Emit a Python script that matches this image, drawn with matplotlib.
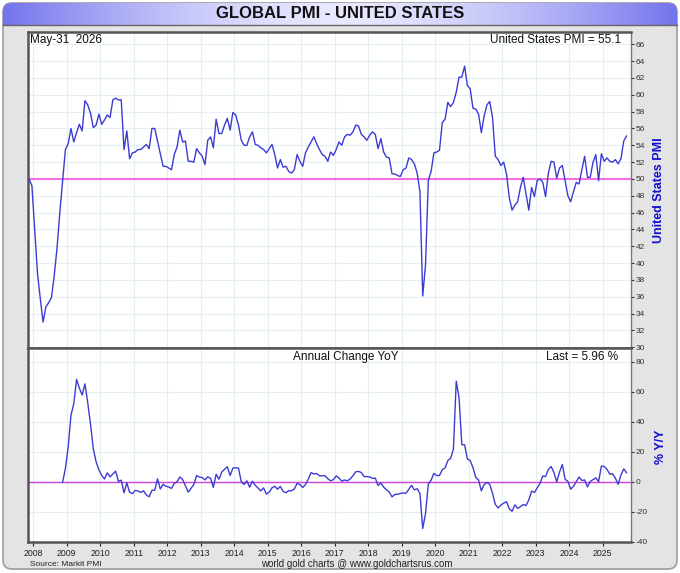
import numpy as np
import pandas as pd
import matplotlib
matplotlib.use('Agg')
import matplotlib.pyplot as plt
from matplotlib.patches import FancyBboxPatch
from matplotlib import font_manager as fm

# ---------------- data ----------------
start_month = '2007-11'
pmi = [
    50.0, 49.2, 44.0, 38.8, 35.8, 33.0, 34.8, 35.3, 35.9, 38.5, 41.8, 46.0,
    49.8, 53.5, 54.2, 56.0, 54.4, 55.5, 56.5, 55.7, 59.3, 58.8, 57.8, 56.1,
    56.4, 57.7, 56.5, 57.0, 57.6, 57.3, 59.4, 59.6, 59.4, 59.4, 53.5, 55.7,
    52.4, 53.1, 53.2, 53.5, 53.5, 53.8, 54.1, 53.6, 56.0, 56.0, 54.5, 53.0,
    51.5, 51.5, 51.3, 51.1, 52.9, 53.8, 55.8, 54.4, 54.5, 52.1, 52.1, 52.0,
    53.6, 53.1, 52.7, 51.7, 54.6, 55.0, 53.7, 57.1, 55.4, 55.4, 56.4, 57.2,
    55.8, 57.9, 57.6, 56.4, 54.6, 54.0, 54.0, 55.0, 55.6, 54.1, 54.0, 53.7,
    53.5, 53.1, 53.6, 54.1, 52.9, 51.3, 52.3, 51.4, 51.5, 50.9, 50.7, 51.1,
    52.9, 52.1, 51.5, 53.1, 53.8, 54.4, 55.0, 54.2, 53.5, 52.9, 52.7, 52.1,
    53.2, 52.8, 53.5, 54.4, 54.0, 55.0, 55.3, 55.2, 55.6, 56.4, 56.3, 55.3,
    55.0, 54.6, 55.2, 55.6, 55.3, 53.6, 54.8, 53.2, 52.6, 52.5, 50.6, 50.6,
    50.4, 50.3, 51.1, 51.3, 52.5, 52.3, 51.8, 50.7, 48.5, 36.1, 39.8, 49.8,
    50.9, 53.1, 53.2, 53.4, 56.7, 57.1, 59.1, 58.6, 59.1, 60.3, 62.1, 62.1,
    63.4, 61.1, 60.7, 58.4, 58.3, 57.7, 55.5, 57.5, 58.8, 59.2, 57.3, 52.7,
    52.3, 51.6, 52.0, 50.6, 47.8, 46.3, 46.9, 47.3, 49.0, 50.2, 48.2, 46.3,
    49.0, 47.9, 49.8, 50.0, 49.6, 47.9, 50.7, 52.1, 52.0, 50.1, 51.3, 51.6,
    49.8, 48.0, 47.3, 48.5, 49.6, 49.4, 51.1, 52.7, 50.2, 50.2, 52.0, 52.9,
    49.8, 53.0, 52.1, 52.5, 52.1, 52.0, 52.3, 51.8, 52.4, 54.5, 55.1,
]
year_ticks = list(range(2008, 2026))
pmi_ticks = list(range(30, 67, 2))
yoy_ticks = list(range(-40, 81, 20))
title = 'GLOBAL PMI - UNITED STATES'
date_label = 'May-31  2026'
series_name = 'United States PMI'
yoy_title = 'Annual Change YoY'

months = pd.period_range(start_month, periods=len(pmi), freq='M')
x = np.asarray(months.year + (months.month - 0.5) / 12.0, dtype=float)
pmi_arr = np.array(pmi)
yoy = (pmi_arr[12:] / pmi_arr[:-12] - 1.0) * 100.0
x_yoy = x[12:]

# ---------------- fonts ----------------
avail = {f.name for f in fm.fontManager.ttflist}
NARROW = 'Liberation Sans Narrow' if 'Liberation Sans Narrow' in avail else 'Liberation Sans'
SANS = 'Liberation Sans' if 'Liberation Sans' in avail else 'DejaVu Sans'

LINE = '#3c3cd2'
GRID = '#e4eff5'
SPINE = '#555555'

fig = plt.figure(figsize=(6.8, 5.73), dpi=100)
fig.patch.set_facecolor('white')

# background frame and title bar (pixel coordinates)
bg = fig.add_axes([0, 0, 1, 1])
bg.set_xlim(0, 680)
bg.set_ylim(573, 0)
bg.axis('off')
bg.set_zorder(-5)
frame = FancyBboxPatch((3, 3), 674, 566, boxstyle='round,pad=0,rounding_size=9',
                       fc='#e4e4e4', ec='#9c9c9c', lw=1.2)
bg.add_patch(frame)
clip = FancyBboxPatch((3, 3), 674, 40, boxstyle='round,pad=0,rounding_size=9',
                      fc='none', ec='none')
bg.add_patch(clip)
t = np.abs(np.linspace(-1, 1, 400)) ** 1.6
edge = np.array([0.45, 0.45, 0.93])
center = np.array([0.91, 0.91, 1.0])
grad = center[None, :] * (1 - t[:, None]) + edge[None, :] * t[:, None]
img = np.repeat(grad[None, :, :], 2, axis=0)
im = bg.imshow(img, extent=(3, 677, 25, 3), aspect='auto', zorder=2, interpolation='bilinear')
im.set_clip_path(clip)
bg.plot([3, 677], [25, 25], color='#666666', lw=1.0, zorder=3)
bg.text(340, 14, title, ha='center', va='center', fontsize=12, fontweight='bold',
        family=NARROW, color='#111111', zorder=4)

# right-hand axis titles, panel caption and footer
bg.text(659, 190, series_name, rotation=90, ha='center', va='center', fontsize=9,
        fontweight='bold', family=SANS, color='#1010cc')
bg.text(661, 447, '% Y/Y', rotation=90, ha='center', va='center', fontsize=9,
        fontweight='bold', family=SANS, color='#1010cc')
bg.text(30, 564, 'Source: Markit PMI', ha='left', va='center', fontsize=6,
        family=SANS, color='#222222')
bg.text(357, 564, 'world gold charts @ www.goldchartsrus.com', ha='center', va='center',
        fontsize=7, family=SANS, color='#222222')

L, R = 28 / 680, 630.5 / 680
ax1 = fig.add_axes([L, 1 - 348 / 573, R - L, (348 - 31.5) / 573])
ax2 = fig.add_axes([L, 1 - 541.7 / 573, R - L, (541.7 - 348) / 573])

xlim = (2007.842, 2025.827)
for ax in (ax1, ax2):
    ax.set_facecolor('white')
    ax.set_xlim(*xlim)
    ax.set_xticks(year_ticks)
    ax.yaxis.tick_right()
    ax.tick_params(axis='y', which='both', direction='out', length=2.5, width=0.8,
                   labelsize=6, colors='#333333', pad=1.5)
    ax.grid(True, color=GRID, lw=0.8)
    ax.set_axisbelow(True)
    for s in ('left', 'top', 'bottom'):
        ax.spines[s].set_color(SPINE)
        ax.spines[s].set_linewidth(1.8)
    ax.spines['right'].set_color('#777777')
    ax.spines['right'].set_linewidth(1.0)

# top panel
ax1.set_ylim(29.92, 67.52)
ax1.set_yticks(pmi_ticks)
ax1.set_yticklabels([str(v) for v in pmi_ticks], family=SANS)
ax1.tick_params(axis='x', length=0, labelbottom=False)
ax1.axhline(50, color='#f36ee6', lw=1.5, zorder=2)
ax1.plot(x, pmi_arr, color=LINE, lw=1.0, zorder=3)
ax1.text(0.004, 0.992, date_label, transform=ax1.transAxes, ha='left', va='top',
         fontsize=8.5, family=NARROW, color='#111111')
ax1.text(0.985, 0.992, f'{series_name} = {pmi_arr[-1]:.1f}', transform=ax1.transAxes,
         ha='right', va='top', fontsize=8.5, family=NARROW, color='#111111')

# bottom panel
ax2.set_ylim(-40, 89.1)
ax2.set_yticks(yoy_ticks)
ax2.set_yticklabels([str(v) for v in yoy_ticks], family=SANS)
ax2.set_xticklabels([str(v) for v in year_ticks], family=SANS, fontsize=6.3)
ax2.tick_params(axis='x', direction='out', length=3, width=0.8, colors='#222222', pad=2)
ax2.axhline(0, color='#cc44dd', lw=1.0, zorder=2)
ax2.plot(x_yoy, yoy, color=LINE, lw=1.0, zorder=3)
ax2.text(0.527, 0.985, yoy_title, transform=ax2.transAxes, ha='center', va='top',
         fontsize=8.5, family=NARROW, color='#111111')
ax2.text(0.98, 0.985, f'Last = {yoy[-1]:.2f} %', transform=ax2.transAxes, ha='right',
         va='top', fontsize=8.5, family=NARROW, color='#111111')

fig.savefig('out.png', dpi=100, facecolor=fig.get_facecolor())
